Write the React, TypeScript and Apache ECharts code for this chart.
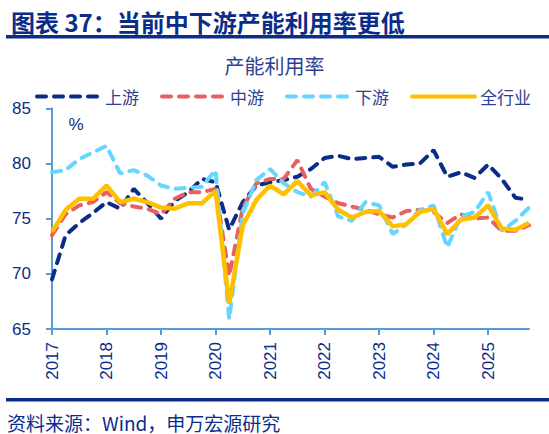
import React, { useEffect, useRef } from 'react';
import * as echarts from 'echarts';

// quarterly points, 2016Q4 .. 2025Q3
const quarters = [
  '2016Q4',
  '2017Q1', '2017Q2', '2017Q3', '2017Q4',
  '2018Q1', '2018Q2', '2018Q3', '2018Q4',
  '2019Q1', '2019Q2', '2019Q3', '2019Q4',
  '2020Q1', '2020Q2', '2020Q3', '2020Q4',
  '2021Q1', '2021Q2', '2021Q3', '2021Q4',
  '2022Q1', '2022Q2', '2022Q3', '2022Q4',
  '2023Q1', '2023Q2', '2023Q3', '2023Q4',
  '2024Q1', '2024Q2', '2024Q3', '2024Q4',
  '2025Q1', '2025Q2', '2025Q3',
];
const yearLabels = ['2017', '2018', '2019', '2020', '2021', '2022', '2023', '2024', '2025'];

const upstream = [
  69.5, 73.5, 74.6, 75.5, 76.5, 75.9, 77.7, 76.4, 75.0, 76.6, 77.4, 78.6, 78.3, 74.0, 76.5, 78.0,
  78.3, 78.5, 78.8, 79.5, 80.5, 80.7, 80.4, 80.5, 80.6, 79.7, 79.9, 80.0, 81.2, 78.8, 79.2, 78.7,
  79.9, 78.6, 76.9, 76.7,
];
const midstream = [
  73.5, 75.4, 76.2, 76.5, 77.4, 76.4, 76.1, 75.9, 75.4, 76.8, 77.4, 77.4, 77.7, 69.8, 76.0, 78.2,
  78.6, 78.6, 80.3, 77.7, 77.0, 76.4, 76.1, 75.8, 75.4, 75.1, 75.7, 75.8, 75.6, 74.6, 75.4, 75.0,
  75.1, 73.9, 73.9, 74.4,
];
const downstream = [
  79.2, 79.4, 80.4, 81.0, 81.6, 79.1, 79.4, 78.9, 78.0, 77.7, 77.8, 77.9, 79.4, 65.9, 75.5, 78.5,
  79.5, 78.2, 77.4, 77.0, 78.3, 75.2, 74.8, 76.5, 76.2, 73.6, 74.5, 75.8, 76.2, 72.4, 75.2, 75.6,
  77.4, 73.9, 74.8, 76.0,
];
const allIndustry = [
  73.8, 75.8, 76.8, 76.8, 78.0, 76.5, 76.8, 76.5, 76.0, 75.9, 76.4, 76.4, 77.5, 67.3, 74.4, 76.7,
  78.0, 77.2, 78.4, 77.1, 77.4, 75.8, 75.1, 75.6, 75.7, 74.3, 74.5, 75.6, 75.9, 73.6, 74.9, 75.1,
  76.2, 74.1, 74.0, 74.6,
];

const NAVY = '#0B2C88';
const TEXT = '#2E3F8F';
const AXIS = '#5B9BD5';
const FONT = 'Liberation Sans, Noto Sans CJK SC, sans-serif';
const CJK = 'Noto Sans CJK SC, sans-serif';

const dashed = (name: string, color: string, data: number[]) => ({
  name,
  type: 'line' as const,
  data,
  symbol: 'none',
  lineStyle: { color, width: 4, type: [9, 8], cap: 'round' as const },
  itemStyle: { color },
});

const App: React.FC = () => {
  const chartRef = useRef<HTMLDivElement | null>(null);

  useEffect(() => {
    if (!chartRef.current) return;
    const chart = echarts.init(chartRef.current, undefined, { renderer: 'svg' });

    const option: echarts.EChartsOption = {
      animation: false,
      backgroundColor: '#fff',
      title: [
        {
          text: '图表 37：当前中下游产能利用率更低',
          left: 6,
          top: 4,
          textStyle: { fontFamily: CJK, fontSize: 24, fontWeight: 'bold', color: NAVY },
        },
        {
          text: '产能利用率',
          left: 'center',
          top: 50,
          textStyle: { fontFamily: CJK, fontSize: 20, fontWeight: 'normal', color: TEXT },
        },
      ],
      legend: {
        left: 30,
        top: 83,
        itemWidth: 63,
        itemHeight: 14,
        itemGap: 21,
        itemStyle: { opacity: 0 },
        lineStyle: { width: 4, cap: 'round' },
        textStyle: { fontFamily: CJK, fontSize: 17, color: TEXT },
        data: ['上游', '中游', '下游', '全行业'],
      },
      grid: { left: 52, right: 20, top: 108.3, bottom: 105, containLabel: false },
      xAxis: {
        type: 'category',
        data: quarters,
        boundaryGap: false,
        axisLine: { lineStyle: { color: AXIS, width: 2 } },
        axisTick: { interval: 3, length: 6, lineStyle: { color: AXIS, width: 2 } },
        axisLabel: {
          interval: 3,
          rotate: 90,
          margin: 13,
          fontFamily: FONT,
          fontSize: 17,
          color: NAVY,
          formatter: (_v: string, idx: number) => yearLabels[idx / 4] ?? '',
        },
        splitLine: { show: false },
      },
      yAxis: {
        type: 'value',
        min: 65,
        max: 85,
        interval: 5,
        axisLine: { show: true, lineStyle: { color: AXIS, width: 2 } },
        axisTick: { show: true, length: 6, lineStyle: { color: AXIS, width: 2 } },
        axisLabel: { margin: 21, fontFamily: FONT, fontSize: 17, color: NAVY },
        splitLine: { show: false },
      },
      graphic: [
        { type: 'rect', shape: { x: 6, y: 35, width: 543, height: 3.5 }, style: { fill: NAVY } },
        { type: 'rect', shape: { x: 6, y: 398, width: 543, height: 3.5 }, style: { fill: NAVY } },
        {
          type: 'text',
          x: 76,
          y: 124,
          style: {
            text: '%',
            fontFamily: FONT,
            fontSize: 17,
            fill: NAVY,
            align: 'center',
            verticalAlign: 'middle',
          },
        },
        {
          type: 'text',
          x: 7,
          y: 422,
          style: {
            text: '资料来源：Wind，申万宏源研究',
            fontFamily: CJK,
            fontSize: 19,
            fill: NAVY,
            verticalAlign: 'middle',
          },
        },
      ],
      series: [
        dashed('上游', '#0B2C88', upstream),
        dashed('中游', '#E8605F', midstream),
        dashed('下游', '#66D6FF', downstream),
        {
          name: '全行业',
          type: 'line',
          data: allIndustry,
          symbol: 'none',
          lineStyle: { color: '#FFC000', width: 4.5 },
          itemStyle: { color: '#FFC000' },
        },
      ],
    };

    chart.setOption(option);

    return () => {
      chart.dispose();
    };
  }, []);

  return (
    <div
      ref={chartRef}
      style={{ position: 'absolute', left: 0, top: 0, width: '549px', height: '434px' }}
    />
  );
};

export default App;
